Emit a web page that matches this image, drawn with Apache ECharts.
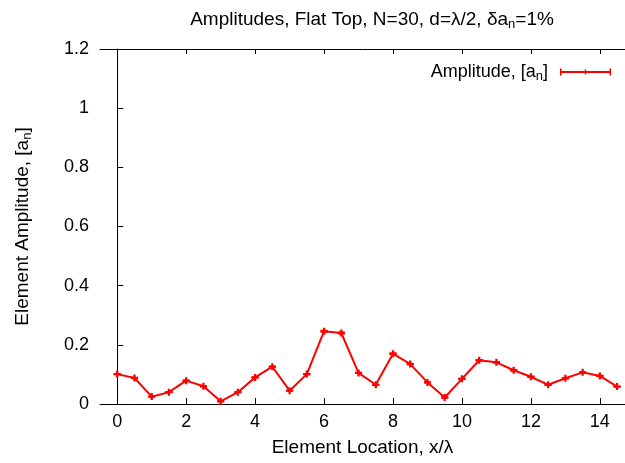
<!DOCTYPE html>
<html>
<head>
<meta charset="utf-8">
<script src="https://cdn.jsdelivr.net/npm/echarts@6/dist/echarts.min.js"></script>
<style>
  html, body { margin: 0; padding: 0; background: #fff; }
  #chart { width: 625px; height: 463px; }
</style>
</head>
<body>
<div id="chart"></div>
<script>
// element positions x/lambda and amplitudes a_n
const positions = [0, 0.5, 1, 1.5, 2, 2.5, 3, 3.5, 4, 4.5, 5, 5.5, 6, 6.5, 7,
                   7.5, 8, 8.5, 9, 9.5, 10, 10.5, 11, 11.5, 12, 12.5, 13, 13.5, 14, 14.5];
const amplitudes = [0.101, 0.088, 0.025, 0.040, 0.079, 0.060, 0.009, 0.040, 0.090, 0.126,
                    0.045, 0.101, 0.246, 0.240, 0.105, 0.065, 0.170, 0.135, 0.073, 0.022,
                    0.085, 0.148, 0.141, 0.114, 0.092, 0.065, 0.087, 0.107, 0.095, 0.059];
const relErr = 0.01; // delta a_n = 1%
const xTicks = [0, 2, 4, 6, 8, 10, 12, 14];

const FONT = '"Liberation Sans", Arial, Helvetica, sans-serif';
const RED = '#ff0000';
const subStyle = { fontSize: 13, fontFamily: FONT, color: '#000', padding: [9, 0, 0, 0] };

const points = positions.map((x, i) => [x, amplitudes[i], amplitudes[i] * relErr]);

const chart = echarts.init(document.getElementById('chart'), null, { renderer: 'canvas' });

chart.setOption({
  backgroundColor: '#fff',
  animation: false,
  title: {
    text: 'Amplitudes, Flat Top, N=30, d=λ/2, δa{sub|n}=1%',
    left: 367,
    top: 4,
    textAlign: 'center',
    textStyle: {
      fontFamily: FONT, fontSize: 19, fontWeight: 'normal', color: '#000',
      rich: { sub: subStyle }
    }
  },
  legend: {
    right: 9,
    top: 58,
    align: 'right',
    itemWidth: 51,
    itemHeight: 8,
    icon: 'path://M0,3H51V5H0Z M0,0.5H1.5V7.5H0Z M24.8,1.5H26.2V6.5H24.8Z M49.5,0.5H51V7.5H49.5Z',
    data: ['Amplitude'],
    formatter: () => 'Amplitude, [a{sub|n}]',
    textStyle: {
      fontFamily: FONT, fontSize: 18, color: '#000',
      padding: [0, 7, 0, 0],
      rich: { sub: subStyle }
    }
  },
  grid: { left: 100, right: 0, top: 49, bottom: 59 },
  xAxis: [{
    type: 'value',
    min: -0.5,
    max: 14.73,
    name: 'Element Location, x/λ',
    nameLocation: 'middle',
    nameGap: 34,
    nameTextStyle: { fontFamily: FONT, fontSize: 19, color: '#000' },
    axisLine: { show: true, onZero: false, lineStyle: { color: '#000', width: 1 } },
    axisTick: { show: true, inside: true, length: 6, customValues: xTicks, lineStyle: { color: '#000' } },
    axisLabel: { customValues: xTicks, fontFamily: FONT, fontSize: 18, color: '#000', margin: 9 },
    splitLine: { show: false }
  }, {
    type: 'value',
    position: 'top',
    min: -0.5,
    max: 14.73,
    axisLine: { show: true, onZero: false, lineStyle: { color: '#000', width: 1 } },
    axisTick: { show: true, inside: true, length: 5, customValues: xTicks, lineStyle: { color: '#000' } },
    axisLabel: { show: false },
    splitLine: { show: false }
  }],
  yAxis: {
    type: 'value',
    min: 0,
    max: 1.2,
    interval: 0.2,
    name: 'Element Amplitude, [a{sub|n}]',
    nameLocation: 'middle',
    nameGap: 66,
    nameRotate: 90,
    nameTextStyle: { fontFamily: FONT, fontSize: 19, color: '#000', rich: { sub: subStyle } },
    axisLine: { show: true, lineStyle: { color: '#000', width: 1 } },
    axisTick: { show: true, inside: true, length: 6, lineStyle: { color: '#000' } },
    axisLabel: {
      fontFamily: FONT, fontSize: 18, color: '#000', margin: 11,
      formatter: v => String(Math.round(v * 10) / 10)
    },
    splitLine: { show: false }
  },
  series: [{
    name: 'Amplitude',
    type: 'line',
    data: points.map(p => [p[0], p[1]]),
    lineStyle: { color: RED, width: 2 },
    itemStyle: { color: RED },
    symbol: 'path://M2,0H4V2H6V4H4V6H2V4H0V2H2Z',
    symbolSize: 7,
    showSymbol: true,
    z: 2
  }, {
    name: 'err',
    type: 'custom',
    data: points,
    z: 3,
    renderItem: (params, api) => {
      const x = api.value(0), y = api.value(1), e = api.value(2);
      const lo = api.coord([x, y - e]);
      const hi = api.coord([x, y + e]);
      const half = 3.5;
      const style = { stroke: RED, lineWidth: 1.5 };
      return {
        type: 'group',
        children: [
          { type: 'line', shape: { x1: lo[0], y1: lo[1], x2: hi[0], y2: hi[1] }, style },
          { type: 'line', shape: { x1: lo[0] - half, y1: lo[1], x2: lo[0] + half, y2: lo[1] }, style },
          { type: 'line', shape: { x1: hi[0] - half, y1: hi[1], x2: hi[0] + half, y2: hi[1] }, style }
        ]
      };
    }
  }]
});
</script>
</body>
</html>
